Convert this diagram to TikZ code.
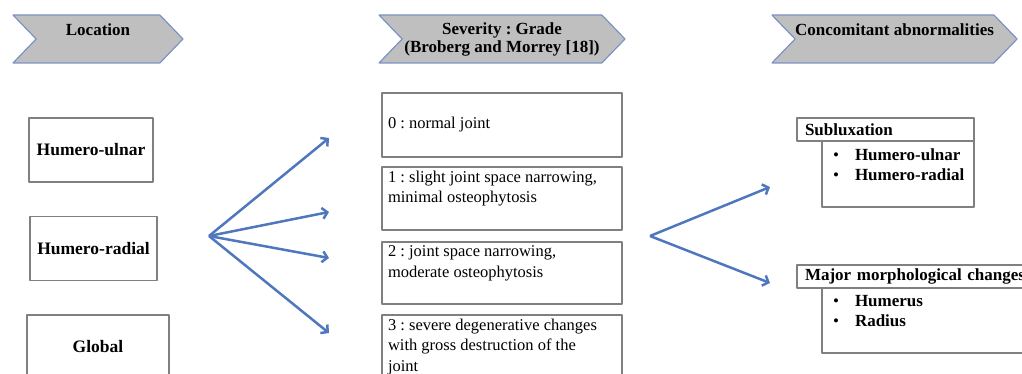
\documentclass[tikz,border=0pt]{standalone}
\usepackage{fontspec}
\setmainfont{Liberation Serif}
\usetikzlibrary{shapes.symbols,arrows.meta}
\definecolor{chevfill}{RGB}{191,191,191}
\definecolor{chevline}{RGB}{124,146,196}
\definecolor{arrowblue}{RGB}{79,119,190}
\definecolor{boxline}{RGB}{128,128,128}
\frenchspacing
\begin{document}
\begin{tikzpicture}[>={Straight Barb[length=5bp,width=11bp]},line join=bevel,
  chevron/.style={signal,signal from=west,signal to=east,signal pointer angle=92,
    draw=chevline,line width=1.2bp,fill=chevfill,minimum height=48bp,inner xsep=0bp,inner ysep=0bp,
    font=\bfseries\fontsize{17bp}{18bp}\selectfont,align=center},
  locbox/.style={draw=boxline,line width=1.2bp,minimum height=64bp,
    font=\bfseries\fontsize{17.5bp}{20bp}\selectfont},
  gradebox/.style={draw=boxline,line width=1.2bp,minimum width=240bp,inner xsep=6bp,inner ysep=4bp,
    font=\fontsize{16.5bp}{20.5bp}\selectfont},
  headbox/.style={draw=boxline,line width=1.2bp,fill=white,minimum height=23bp,inner xsep=8bp,inner ysep=0bp,
    font=\bfseries\fontsize{17bp}{20bp}\selectfont,align=left},
  listbox/.style={draw=boxline,line width=1.2bp,inner xsep=0bp,inner ysep=7.5bp,
    font=\bfseries\fontsize{17bp}{20bp}\selectfont},
  fanarrow/.style={arrowblue,line width=2.5bp,->},
]
\useasboundingbox (0bp,0bp) rectangle (1022bp,374bp);
\clip (0bp,0bp) rectangle (1022bp,374bp);
%%
\node (head_loc) at (98bp,335bp) [chevron,minimum width=170bp] {Location\\~};
  \node (head_grade) at (502bp,335bp) [chevron,minimum width=246bp] {Severity : Grade\\(Broberg and Morrey [18])};
  \node (head_conc) at (894.5bp,335bp) [chevron,minimum width=245bp] {Concomitant abnormalities\\~};
%
\node (loc_ulnar) at (91bp,224bp) [locbox,minimum width=124bp] {Humero-ulnar};
  \node (loc_radial) at (93.5bp,125.5bp) [locbox,minimum width=127bp] {Humero-radial};
  \node (loc_global) at (98bp,27bp) [locbox,minimum width=142bp] {Global};
%
\node (grade_0) at (502bp,249bp) [gradebox] {\parbox[c][56bp][c]{228bp}{0 : normal joint}};
  \node (grade_1) at (502bp,175.5bp) [gradebox] {\parbox[t][55bp][t]{228bp}{1 : slight joint space narrowing,\\minimal osteophytosis}};
  \node (grade_2) at (502bp,101bp) [gradebox] {\parbox[t][54bp][t]{228bp}{2 : joint space narrowing,\\moderate osteophytosis}};
  \node (grade_3) at (502bp,27bp) [gradebox] {\parbox[t][56bp][t]{228bp}{3 : severe degenerative changes\\with gross destruction of the\\joint}};
%
\node (sub_list) at (898bp,200bp) [listbox] {\parbox[t][51bp][t]{152bp}{\leftskip=11bp\makebox[22bp][l]{\textmd{\textbullet}}Humero-ulnar\\\makebox[22bp][l]{\textmd{\textbullet}}Humero-radial}};
  \node (sub_head) at (885.5bp,244.5bp) [headbox,text width=161bp] {Subluxation};
  \node (major_list) at (931bp,53.5bp) [listbox] {\parbox[t][50bp][t]{218bp}{\leftskip=11bp\makebox[22bp][l]{\textmd{\textbullet}}Humerus\\\makebox[22bp][l]{\textmd{\textbullet}}Radius}};
  \node (major_head) at (918.5bp,97.5bp) [headbox,text width=227bp] {Major morphological changes};
%
\coordinate (fan_left) at (209bp,138bp);
  \coordinate (tip_0) at (329bp,236bp);
  \coordinate (tip_1) at (329bp,162bp);
  \coordinate (tip_2) at (329bp,116bp);
  \coordinate (tip_3) at (329bp,41bp);
  \coordinate (fan_right) at (650bp,138bp);
  \coordinate (tip_sub) at (770bp,187bp);
  \coordinate (tip_major) at (770bp,91bp);
%
\draw [fanarrow] (fan_left) -- (tip_0);
  \draw [fanarrow] (fan_left) -- (tip_1);
  \draw [fanarrow] (fan_left) -- (tip_2);
  \draw [fanarrow] (fan_left) -- (tip_3);
  \draw [fanarrow] (fan_right) -- (tip_sub);
  \draw [fanarrow] (fan_right) -- (tip_major);
%
\end{tikzpicture}
\end{document}
